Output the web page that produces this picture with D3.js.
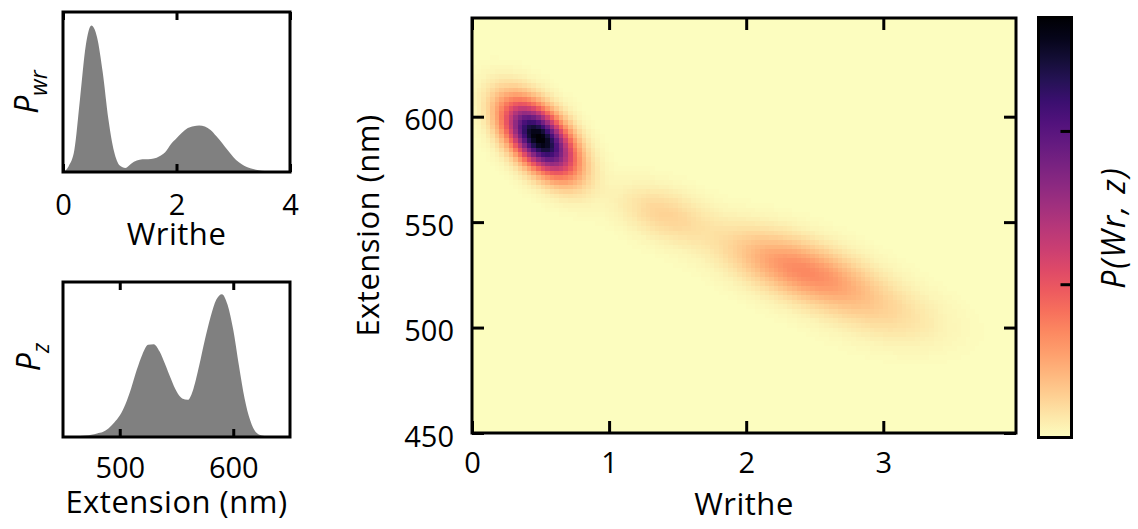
<!doctype html>
<html>
<head>
<meta charset="utf-8">
<title>Writhe / extension density</title>
<script src="https://d3js.org/d3.v7.min.js"></script>
<style>
body{ margin:0; background:#fff; }
svg text{ font-family:"Open Sans", sans-serif; fill:#000; }
</style>
</head>
<body>
<svg id="fig" width="1138" height="529"></svg>
<script>

// --- marginal of writhe (peak normalised to 1)
var wrSamples = [0.0,0.1,0.2,0.3,0.4,0.5,0.6,0.7,0.8,0.9,1.0,1.1,1.2,1.3,1.4,1.5,1.6,1.7,1.8,1.9,2.0,
                 2.1,2.2,2.3,2.4,2.5,2.6,2.7,2.8,2.9,3.0,3.1,3.2,3.3,3.4,3.5,3.6,3.7,3.8,3.9,4.0];
var pWr = [0.000,0.040,0.150,0.500,0.860,1.000,0.920,0.680,0.360,0.140,0.045,0.028,0.057,0.078,0.087,0.087,0.092,0.108,0.135,0.190,0.230,
           0.270,0.300,0.313,0.318,0.310,0.286,0.245,0.200,0.150,0.103,0.066,0.041,0.025,0.016,0.009,0.006,0.004,0.002,0.001,0.000];

// --- marginal of extension (bottom-left panel)
var zSamples = [450,455,460,465,470,475,480,485,490,495,500,505,510,515,520,525,530,535,540,545,550,
                555,560,565,570,575,580,585,590,595,600,605,610,615,620,625,630,635,640,645,650];
var pZ = [0.000,0.002,0.004,0.007,0.010,0.015,0.025,0.035,0.060,0.100,0.150,0.230,0.340,0.470,0.580,0.645,0.650,0.600,0.510,0.410,0.320,
          0.270,0.260,0.340,0.500,0.680,0.840,0.960,1.000,0.925,0.750,0.500,0.270,0.115,0.033,0.010,0.004,0.002,0.001,0.000,0.000];

// --- joint density: blobs (centre, spread, tilt, peak in colorbar units)
var blobWr   = [0.49, 1.40, 2.42, 3.05];
var blobZ    = [590, 554, 527, 505];
var blobSdWr = [0.17, 0.22, 0.36, 0.30];
var blobSdZ  = [11.5, 9, 12, 10];
var blobRho  = [-0.55, -0.40, -0.60, -0.30];
var blobAmp  = [2.74, 0.24, 0.68, 0.13];

// axis ticks
var mainWrTicks = [0, 1, 2, 3];
var mainZTicks = [450, 500, 550, 600];
var sideWrTicks = [0, 2, 4];
var sideZTicks = [500, 600];
var cbarTicks = [1, 2];
var cbarMax = 2.74;

var svg = d3.select('#fig');

function styleAxis(g, fs) {
  g.attr('font-size', null).attr('font-family', null);
  g.select('.domain').remove();
  g.selectAll('.tick line').attr('stroke', '#000').attr('stroke-width', 3);
  g.selectAll('.tick text').style('font-size', fs + 'px');
}

function frame(x0, y0, x1, y1) {
  svg.append('rect')
    .attr('x', x0).attr('y', y0).attr('width', x1 - x0).attr('height', y1 - y0)
    .attr('fill', 'none').attr('stroke', '#000').attr('stroke-width', 3);
}

// ================= top-left: P_wr =================
var tl = {l: 63, r: 290, t: 12, b: 172};
var xWr = d3.scaleLinear().domain([0, 4]).range([tl.l, tl.r]);
var yWr = d3.scaleLinear().domain([0, 1.092]).range([tl.b, tl.t]);

var areaWr = d3.area()
  .x(function(d, i) { return xWr(wrSamples[i]); })
  .y0(tl.b)
  .y1(function(d) { return yWr(d); })
  .curve(d3.curveMonotoneX);

svg.append('path').datum(pWr).attr('d', areaWr).attr('fill', '#808080');

var g = svg.append('g').attr('transform', 'translate(0,' + tl.b + ')')
  .call(d3.axisBottom(xWr).tickValues(sideWrTicks).tickSize(-8).tickPadding(22).tickFormat(d3.format('d')));
styleAxis(g, 29);
g = svg.append('g').attr('transform', 'translate(0,' + tl.t + ')')
  .call(d3.axisTop(xWr).tickValues(sideWrTicks).tickSize(-8).tickFormat(''));
styleAxis(g, 29);
frame(tl.l, tl.t, tl.r, tl.b);

svg.append('text').attr('x', (tl.l + tl.r) / 2).attr('y', 245)
  .attr('text-anchor', 'middle').style('font-size', '31px').style('letter-spacing', '0.5px').text('Writhe');

var lab = svg.append('text').attr('transform', 'translate(38,92) rotate(-90)')
  .attr('text-anchor', 'middle').style('font-size', '32px');
lab.append('tspan').style('font-style', 'italic').text('P');
lab.append('tspan').attr('dy', 9).style('font-size', '23px').style('font-style', 'italic').text('wr');

// ================= bottom-left: P_z =================
var bl = {l: 63, r: 290, t: 282, b: 437};
var xZ = d3.scaleLinear().domain([450, 650]).range([bl.l, bl.r]);
var yZ = d3.scaleLinear().domain([0, 1.085]).range([bl.b, bl.t]);

var areaZ = d3.area()
  .x(function(d, i) { return xZ(zSamples[i]); })
  .y0(bl.b)
  .y1(function(d) { return yZ(d); })
  .curve(d3.curveMonotoneX);

svg.append('path').datum(pZ).attr('d', areaZ).attr('fill', '#808080');

g = svg.append('g').attr('transform', 'translate(0,' + bl.b + ')')
  .call(d3.axisBottom(xZ).tickValues(sideZTicks).tickSize(-8).tickPadding(20).tickFormat(d3.format('d')));
styleAxis(g, 29);
g = svg.append('g').attr('transform', 'translate(0,' + bl.t + ')')
  .call(d3.axisTop(xZ).tickValues(sideZTicks).tickSize(-8).tickFormat(''));
styleAxis(g, 29);
frame(bl.l, bl.t, bl.r, bl.b);

svg.append('text').attr('x', (bl.l + bl.r) / 2).attr('y', 513)
  .attr('text-anchor', 'middle').style('font-size', '31px').style('letter-spacing', '0.5px').text('Extension (nm)');

lab = svg.append('text').attr('transform', 'translate(40,357) rotate(-90)')
  .attr('text-anchor', 'middle').style('font-size', '32px');
lab.append('tspan').style('font-style', 'italic').text('P');
lab.append('tspan').attr('dy', 9).style('font-size', '23px').style('font-style', 'italic').text('z');

// ================= main heatmap =================
var mp = {l: 472, r: 1016, t: 18, b: 433};
var x = d3.scaleLinear().domain([0, 3.968]).range([mp.l, mp.r]);
var y = d3.scaleLinear().domain([450, 646.8]).range([mp.b, mp.t]);

var nWr = 119, nZ = 90;
var dWr = 3.968 / nWr, dZ = (646.8 - 450) / nZ;

function density(w, z) {
  var s = 0;
  for (var k = 0; k < blobWr.length; k++) {
    var a = (w - blobWr[k]) / blobSdWr[k];
    var b = (z - blobZ[k]) / blobSdZ[k];
    var r = blobRho[k];
    var q = (a * a - 2 * r * a * b + b * b) / (1 - r * r);
    s += blobAmp[k] * Math.exp(-q / 2);
  }
  return s;
}

var cells = [];
for (var i = 0; i < nWr; i++) {
  for (var j = 0; j < nZ; j++) {
    var w0 = i * dWr, z0 = 450 + j * dZ;
    cells.push({w0: w0, w1: w0 + dWr, z0: z0, z1: z0 + dZ, v: density(w0 + dWr / 2, z0 + dZ / 2)});
  }
}

var color = function(v) { return d3.interpolateMagma(1 - Math.max(0, Math.min(1, v / cbarMax))); };

svg.append('g').attr('shape-rendering', 'crispEdges')
  .selectAll('rect').data(cells).join('rect')
  .attr('x', function(d) { return x(d.w0); })
  .attr('y', function(d) { return y(d.z1); })
  .attr('width', function(d) { return x(d.w1) - x(d.w0) + 0.6; })
  .attr('height', function(d) { return y(d.z0) - y(d.z1) + 0.6; })
  .attr('fill', function(d) { return color(d.v); });

g = svg.append('g').attr('transform', 'translate(0,' + mp.b + ')')
  .call(d3.axisBottom(x).tickValues(mainWrTicks).tickSize(-12).tickPadding(19).tickFormat(d3.format('d')));
styleAxis(g, 29);
g = svg.append('g').attr('transform', 'translate(0,' + mp.t + ')')
  .call(d3.axisTop(x).tickValues(mainWrTicks).tickSize(-12).tickFormat(''));
styleAxis(g, 29);
g = svg.append('g').attr('transform', 'translate(' + mp.l + ',0)')
  .call(d3.axisLeft(y).tickValues(mainZTicks).tickSize(-12).tickPadding(18).tickFormat(d3.format('d')));
styleAxis(g, 29);
g.selectAll('.tick text').attr('dy', '0.45em');
g = svg.append('g').attr('transform', 'translate(' + mp.r + ',0)')
  .call(d3.axisRight(y).tickValues(mainZTicks).tickSize(-12).tickFormat(''));
styleAxis(g, 29);
frame(mp.l, mp.t, mp.r, mp.b);

svg.append('text').attr('x', (mp.l + mp.r) / 2).attr('y', 515)
  .attr('text-anchor', 'middle').style('font-size', '31px').style('letter-spacing', '0.5px').text('Writhe');
svg.append('text').attr('transform', 'translate(379,' + (mp.t + mp.b) / 2 + ') rotate(-90)')
  .attr('text-anchor', 'middle').style('font-size', '31px').style('letter-spacing', '0.5px').text('Extension (nm)');

// ================= colorbar =================
var cb = {l: 1038.5, r: 1071.5, t: 17.5, b: 437.5};
var yc = d3.scaleLinear().domain([0, cbarMax]).range([cb.b, cb.t]);

var grad = svg.append('defs').append('linearGradient').attr('id', 'cbgrad')
  .attr('x1', 0).attr('y1', 1).attr('x2', 0).attr('y2', 0);
grad.selectAll('stop').data(d3.range(0, 1.0001, 0.05)).join('stop')
  .attr('offset', function(d) { return d; })
  .attr('stop-color', function(d) { return d3.interpolateMagma(1 - d); });

svg.append('rect').attr('x', cb.l).attr('y', cb.t).attr('width', cb.r - cb.l).attr('height', cb.b - cb.t)
  .attr('fill', 'url(#cbgrad)');
g = svg.append('g').attr('transform', 'translate(' + cb.r + ',0)')
  .call(d3.axisRight(yc).tickValues(cbarTicks).tickSize(-11).tickFormat(''));
styleAxis(g, 29);
frame(cb.l, cb.t, cb.r, cb.b);

svg.append('text').attr('transform', 'translate(1125,' + (cb.t + cb.b) / 2 + ') rotate(-90)')
  .attr('text-anchor', 'middle').style('font-size', '32px').style('font-style', 'italic')
  .style('letter-spacing', '2px').text('P(Wr, z)');

</script>
</body>
</html>
